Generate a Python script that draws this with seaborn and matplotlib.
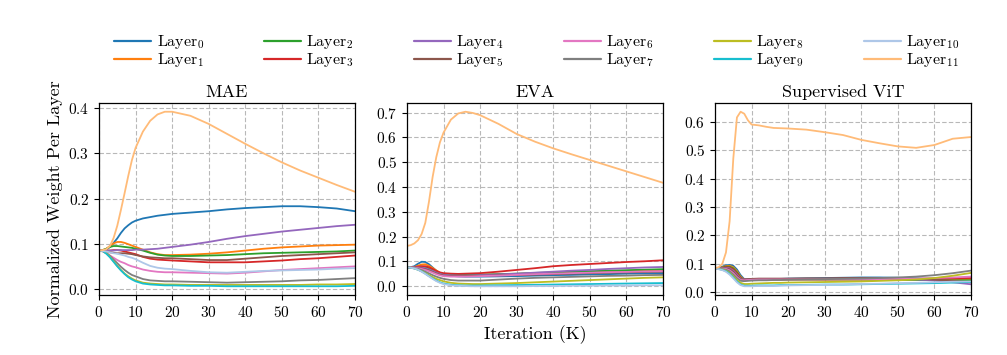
import numpy as np
import pandas as pd
import matplotlib
matplotlib.use("Agg")
import matplotlib.pyplot as plt
import seaborn as sns

# ---------------- data ----------------
iters = [0, 1, 2, 3, 4, 5, 6, 7, 8, 9, 10, 12, 14, 16, 18, 20, 25, 30, 35, 40, 45, 50, 55, 60, 65, 70]
layers = [f"Layer$_{{{i}}}$" for i in range(12)]
panels = ["MAE", "EVA", "Supervised ViT"]

mae_l0 = [0.085, 0.085, 0.087, 0.093, 0.102, 0.112, 0.124, 0.134, 0.141, 0.147, 0.151, 0.156, 0.159, 0.162, 0.164, 0.166, 0.169, 0.172, 0.176, 0.179, 0.181, 0.183, 0.183, 0.181, 0.178, 0.172]
mae_l1 = [0.085, 0.086, 0.089, 0.095, 0.101, 0.104, 0.104, 0.102, 0.099, 0.096, 0.093, 0.087, 0.081, 0.077, 0.075, 0.075, 0.076, 0.078, 0.081, 0.085, 0.089, 0.092, 0.094, 0.096, 0.097, 0.098]
mae_l2 = [0.085, 0.086, 0.089, 0.093, 0.095, 0.095, 0.094, 0.093, 0.092, 0.091, 0.089, 0.085, 0.080, 0.076, 0.074, 0.073, 0.073, 0.074, 0.075, 0.077, 0.079, 0.080, 0.081, 0.082, 0.083, 0.085]
mae_l3 = [0.085, 0.085, 0.085, 0.085, 0.086, 0.086, 0.085, 0.083, 0.081, 0.079, 0.077, 0.071, 0.067, 0.065, 0.064, 0.063, 0.061, 0.059, 0.059, 0.059, 0.061, 0.063, 0.066, 0.068, 0.071, 0.074]
mae_l4 = [0.085, 0.085, 0.085, 0.085, 0.085, 0.086, 0.086, 0.086, 0.086, 0.086, 0.087, 0.087, 0.088, 0.089, 0.091, 0.093, 0.098, 0.104, 0.111, 0.117, 0.122, 0.127, 0.131, 0.135, 0.139, 0.142]
mae_l5 = [0.085, 0.084, 0.083, 0.081, 0.080, 0.079, 0.079, 0.079, 0.078, 0.077, 0.075, 0.072, 0.070, 0.069, 0.068, 0.068, 0.066, 0.064, 0.064, 0.067, 0.070, 0.073, 0.075, 0.077, 0.079, 0.081]
mae_l6 = [0.085, 0.083, 0.079, 0.074, 0.069, 0.064, 0.060, 0.057, 0.053, 0.050, 0.048, 0.043, 0.040, 0.038, 0.037, 0.037, 0.036, 0.035, 0.034, 0.036, 0.039, 0.042, 0.044, 0.046, 0.048, 0.050]
mae_l7 = [0.085, 0.084, 0.080, 0.073, 0.065, 0.057, 0.049, 0.042, 0.036, 0.031, 0.028, 0.022, 0.019, 0.018, 0.017, 0.017, 0.016, 0.015, 0.014, 0.015, 0.016, 0.017, 0.019, 0.020, 0.022, 0.024]
mae_l8 = [0.085, 0.084, 0.079, 0.071, 0.061, 0.051, 0.042, 0.034, 0.028, 0.023, 0.019, 0.014, 0.012, 0.011, 0.010, 0.010, 0.009, 0.009, 0.009, 0.009, 0.009, 0.009, 0.009, 0.010, 0.010, 0.011]
mae_l9 = [0.085, 0.084, 0.078, 0.070, 0.060, 0.050, 0.041, 0.033, 0.026, 0.021, 0.017, 0.012, 0.010, 0.009, 0.008, 0.008, 0.007, 0.007, 0.006, 0.006, 0.006, 0.006, 0.006, 0.006, 0.006, 0.007]
mae_l10 = [0.085, 0.084, 0.083, 0.081, 0.079, 0.078, 0.076, 0.074, 0.071, 0.069, 0.066, 0.058, 0.051, 0.047, 0.045, 0.044, 0.040, 0.037, 0.036, 0.038, 0.040, 0.041, 0.042, 0.043, 0.045, 0.046]
mae_l11 = [0.085, 0.086, 0.088, 0.095, 0.113, 0.140, 0.175, 0.212, 0.250, 0.285, 0.312, 0.348, 0.372, 0.386, 0.392, 0.392, 0.383, 0.365, 0.343, 0.321, 0.300, 0.280, 0.262, 0.246, 0.230, 0.215]

eva_l0 = [0.075, 0.076, 0.080, 0.090, 0.098, 0.097, 0.088, 0.075, 0.062, 0.052, 0.046, 0.041, 0.039, 0.038, 0.038, 0.038, 0.039, 0.040, 0.042, 0.044, 0.045, 0.047, 0.048, 0.050, 0.051, 0.052]
eva_l1 = [0.075, 0.075, 0.077, 0.082, 0.087, 0.088, 0.082, 0.073, 0.063, 0.054, 0.048, 0.045, 0.044, 0.044, 0.045, 0.045, 0.047, 0.049, 0.051, 0.053, 0.055, 0.057, 0.059, 0.061, 0.063, 0.065]
eva_l2 = [0.075, 0.075, 0.076, 0.077, 0.078, 0.077, 0.072, 0.065, 0.058, 0.052, 0.048, 0.046, 0.045, 0.045, 0.046, 0.046, 0.048, 0.050, 0.053, 0.055, 0.058, 0.060, 0.062, 0.064, 0.066, 0.068]
eva_l3 = [0.075, 0.075, 0.076, 0.078, 0.080, 0.080, 0.076, 0.069, 0.061, 0.055, 0.052, 0.050, 0.049, 0.050, 0.051, 0.052, 0.058, 0.065, 0.072, 0.080, 0.085, 0.089, 0.093, 0.097, 0.100, 0.104]
eva_l4 = [0.075, 0.075, 0.075, 0.075, 0.074, 0.072, 0.067, 0.061, 0.054, 0.049, 0.045, 0.043, 0.042, 0.042, 0.043, 0.044, 0.047, 0.050, 0.054, 0.058, 0.062, 0.065, 0.069, 0.072, 0.075, 0.077]
eva_l5 = [0.075, 0.075, 0.074, 0.073, 0.071, 0.068, 0.063, 0.057, 0.051, 0.046, 0.042, 0.040, 0.040, 0.040, 0.041, 0.041, 0.043, 0.044, 0.046, 0.048, 0.050, 0.052, 0.054, 0.055, 0.057, 0.058]
eva_l6 = [0.075, 0.075, 0.074, 0.072, 0.069, 0.065, 0.060, 0.054, 0.048, 0.043, 0.040, 0.038, 0.038, 0.038, 0.039, 0.040, 0.042, 0.045, 0.048, 0.050, 0.052, 0.054, 0.056, 0.057, 0.059, 0.060]
eva_l7 = [0.075, 0.074, 0.072, 0.069, 0.064, 0.058, 0.051, 0.044, 0.038, 0.033, 0.029, 0.024, 0.022, 0.022, 0.022, 0.022, 0.026, 0.030, 0.033, 0.035, 0.037, 0.039, 0.041, 0.042, 0.044, 0.045]
eva_l8 = [0.075, 0.074, 0.071, 0.066, 0.060, 0.052, 0.044, 0.036, 0.029, 0.024, 0.019, 0.013, 0.010, 0.009, 0.008, 0.008, 0.010, 0.012, 0.015, 0.018, 0.021, 0.024, 0.027, 0.030, 0.033, 0.035]
eva_l9 = [0.075, 0.074, 0.071, 0.066, 0.059, 0.050, 0.040, 0.031, 0.022, 0.015, 0.010, 0.005, 0.003, 0.002, 0.002, 0.002, 0.003, 0.004, 0.005, 0.006, 0.007, 0.008, 0.009, 0.010, 0.011, 0.012]
eva_l10 = [0.075, 0.074, 0.071, 0.066, 0.058, 0.049, 0.039, 0.029, 0.020, 0.013, 0.008, 0.003, 0.001, 0.000, -0.001, -0.001, -0.001, -0.001, 0.000, 0.000, 0.001, 0.001, 0.002, 0.002, 0.003, 0.003]
eva_l11 = [0.162, 0.165, 0.172, 0.185, 0.210, 0.255, 0.340, 0.440, 0.520, 0.580, 0.620, 0.672, 0.697, 0.704, 0.699, 0.690, 0.655, 0.614, 0.583, 0.556, 0.532, 0.509, 0.486, 0.463, 0.440, 0.417]

sup_l0 = [0.083, 0.085, 0.090, 0.095, 0.096, 0.093, 0.080, 0.060, 0.046, 0.045, 0.046, 0.047, 0.047, 0.047, 0.047, 0.048, 0.049, 0.050, 0.051, 0.052, 0.052, 0.051, 0.049, 0.046, 0.043, 0.040]
sup_l1 = [0.083, 0.084, 0.088, 0.092, 0.093, 0.088, 0.074, 0.055, 0.044, 0.043, 0.044, 0.045, 0.045, 0.045, 0.045, 0.045, 0.045, 0.044, 0.044, 0.044, 0.044, 0.044, 0.044, 0.044, 0.045, 0.045]
sup_l2 = [0.083, 0.084, 0.087, 0.090, 0.090, 0.084, 0.070, 0.052, 0.043, 0.043, 0.044, 0.045, 0.045, 0.045, 0.045, 0.045, 0.045, 0.045, 0.045, 0.045, 0.044, 0.044, 0.043, 0.043, 0.042, 0.042]
sup_l3 = [0.083, 0.084, 0.086, 0.088, 0.087, 0.080, 0.066, 0.050, 0.044, 0.045, 0.046, 0.046, 0.046, 0.046, 0.046, 0.046, 0.046, 0.046, 0.047, 0.047, 0.047, 0.047, 0.047, 0.048, 0.049, 0.050]
sup_l4 = [0.083, 0.083, 0.085, 0.086, 0.084, 0.076, 0.062, 0.048, 0.045, 0.046, 0.047, 0.047, 0.047, 0.047, 0.047, 0.047, 0.047, 0.047, 0.048, 0.048, 0.048, 0.047, 0.045, 0.041, 0.035, 0.028]
sup_l5 = [0.083, 0.083, 0.084, 0.084, 0.081, 0.072, 0.058, 0.046, 0.045, 0.046, 0.047, 0.048, 0.048, 0.048, 0.048, 0.048, 0.049, 0.049, 0.050, 0.050, 0.050, 0.049, 0.047, 0.044, 0.040, 0.035]
sup_l6 = [0.083, 0.083, 0.083, 0.082, 0.077, 0.067, 0.053, 0.043, 0.042, 0.043, 0.044, 0.045, 0.045, 0.045, 0.045, 0.045, 0.045, 0.045, 0.045, 0.045, 0.046, 0.047, 0.048, 0.050, 0.052, 0.055]
sup_l7 = [0.083, 0.082, 0.081, 0.079, 0.073, 0.062, 0.049, 0.040, 0.039, 0.040, 0.041, 0.042, 0.042, 0.043, 0.043, 0.044, 0.045, 0.046, 0.047, 0.048, 0.050, 0.052, 0.055, 0.060, 0.067, 0.076]
sup_l8 = [0.083, 0.082, 0.080, 0.076, 0.068, 0.056, 0.043, 0.033, 0.029, 0.029, 0.030, 0.031, 0.032, 0.033, 0.033, 0.034, 0.035, 0.036, 0.037, 0.038, 0.040, 0.042, 0.045, 0.050, 0.058, 0.068]
sup_l9 = [0.083, 0.082, 0.079, 0.074, 0.065, 0.052, 0.038, 0.027, 0.023, 0.023, 0.023, 0.024, 0.024, 0.024, 0.025, 0.025, 0.026, 0.027, 0.027, 0.028, 0.029, 0.030, 0.031, 0.032, 0.034, 0.036]
sup_l10 = [0.083, 0.081, 0.078, 0.072, 0.062, 0.049, 0.035, 0.025, 0.021, 0.021, 0.021, 0.022, 0.022, 0.022, 0.023, 0.024, 0.025, 0.026, 0.027, 0.029, 0.030, 0.032, 0.033, 0.035, 0.037, 0.038]
sup_l11 = [0.085, 0.088, 0.100, 0.140, 0.250, 0.470, 0.615, 0.635, 0.628, 0.605, 0.590, 0.587, 0.582, 0.578, 0.577, 0.576, 0.572, 0.563, 0.553, 0.536, 0.524, 0.513, 0.508, 0.518, 0.540, 0.546]

series = {
    "MAE": [mae_l0, mae_l1, mae_l2, mae_l3, mae_l4, mae_l5, mae_l6, mae_l7, mae_l8, mae_l9, mae_l10, mae_l11],
    "EVA": [eva_l0, eva_l1, eva_l2, eva_l3, eva_l4, eva_l5, eva_l6, eva_l7, eva_l8, eva_l9, eva_l10, eva_l11],
    "Supervised ViT": [sup_l0, sup_l1, sup_l2, sup_l3, sup_l4, sup_l5, sup_l6, sup_l7, sup_l8, sup_l9, sup_l10, sup_l11],
}

rows = []
for p in panels:
    for li, vals in enumerate(series[p]):
        for x, v in zip(iters, vals):
            rows.append((p, layers[li], x, v))
df = pd.DataFrame(rows, columns=["panel", "layer", "iter", "value"])

# ---------------- style ----------------
sns.set_theme(style="ticks")
plt.rcParams.update({
    "font.family": "serif",
    "font.serif": ["cmr10", "DejaVu Serif"],
    "mathtext.fontset": "cm",
    "axes.formatter.use_mathtext": True,
    "axes.unicode_minus": False,
    "axes.edgecolor": "black",
    "axes.linewidth": 0.9,
    "xtick.color": "black",
    "ytick.color": "black",
    "text.color": "black",
    "axes.labelcolor": "black",
})

palette = list(sns.color_palette("tab10", 10).as_hex()) + ["#aec7e8", "#ffbb78"]

fig = plt.figure(figsize=(10.07, 3.55), dpi=100)
lefts = [99 / 1007, 407 / 1007, 715 / 1007]
axes = [fig.add_axes([l, 1 - 295 / 355, 256 / 1007, 192 / 355]) for l in lefts]

for ax, p in zip(axes, panels):
    sns.lineplot(data=df[df.panel == p], x="iter", y="value", hue="layer",
                 hue_order=layers, palette=palette, linewidth=1.3,
                 ax=ax, legend=(p == "MAE"))
    ax.set_xlim(0, 70)
    ax.set_xticks([0, 10, 20, 30, 40, 50, 60, 70])
    ax.grid(True, linestyle=(0, (4, 2)), color="#b8b8b8", linewidth=0.8)
    ax.set_title(p, fontsize=13, pad=4)
    ax.set_xlabel("")
    ax.set_ylabel("")
    ax.tick_params(labelsize=11, length=3.5, width=0.8, direction="out")
    for s in ax.spines.values():
        s.set_visible(True)
        s.set_color("black")

axes[0].set_yticks([0.0, 0.1, 0.2, 0.3, 0.4])
axes[1].set_yticks([0.0, 0.1, 0.2, 0.3, 0.4, 0.5, 0.6, 0.7])
axes[2].set_yticks([0.0, 0.1, 0.2, 0.3, 0.4, 0.5, 0.6])
axes[0].set_ylabel("Normalized Weight Per Layer", fontsize=13)
axes[1].set_xlabel("Iteration (K)", fontsize=13)

handles, labels = axes[0].get_legend_handles_labels()
axes[0].get_legend().remove()
for h in handles:
    h.set_linewidth(1.6)
fig.legend(handles, labels, ncol=6, loc="upper left",
           bbox_to_anchor=(108 / 1007, 1 - 27 / 355), frameon=False,
           fontsize=11.5, handlelength=2.3, handletextpad=0.35,
           columnspacing=3.75, labelspacing=0.0, borderaxespad=0.0)

fig.savefig("out.png", dpi=100)
